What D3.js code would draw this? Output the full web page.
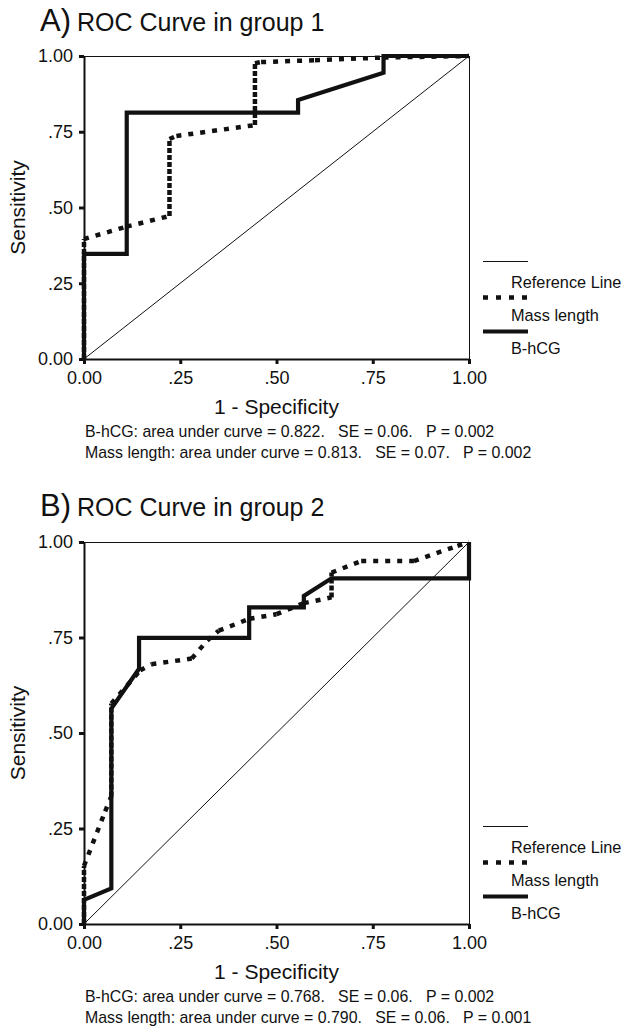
<!DOCTYPE html>
<html>
<head>
<meta charset="utf-8">
<script src="https://cdn.jsdelivr.net/npm/d3@7"></script>
<style>
  body { margin: 0; background: #fff; }
  svg { display: block; }
  text { font-family: "Liberation Sans", Arial, sans-serif; fill: #111; }
</style>
</head>
<body>
<div id="chart"></div>
<script>
// ROC curves, two groups (SPSS style output)

var panelLetters = ["A)", "B)"];
var panelTitles = ["ROC Curve in group 1", "ROC Curve in group 2"];

var tickValues = [0, 0.25, 0.5, 0.75, 1];
var tickLabels = ["0.00", ".25", ".50", ".75", "1.00"];

var legendLabels = ["Reference Line", "Mass length", "B-hCG"];

// [1 - specificity, sensitivity]
var hcgA = [[0, 0], [0, 0.347], [0.111, 0.347], [0.111, 0.813], [0.556, 0.813],
  [0.556, 0.855], [0.778, 0.945], [0.778, 1], [1, 1]];
var massA = [[0, 0], [0, 0.396], [0.111, 0.437], [0.222, 0.472], [0.222, 0.726],
  [0.24, 0.736], [0.444, 0.772], [0.444, 0.976], [0.46, 0.98], [0.6, 0.986],
  [0.778, 0.995], [1, 1]];

var hcgB = [[0, 0], [0, 0.063], [0.071, 0.093], [0.071, 0.564], [0.143, 0.668],
  [0.143, 0.749], [0.429, 0.749], [0.429, 0.829], [0.571, 0.829], [0.571, 0.859],
  [0.643, 0.905], [1, 0.905], [1, 1]];
var massB = [[0, 0], [0, 0.152], [0.055, 0.295], [0.071, 0.334], [0.071, 0.577],
  [0.146, 0.664], [0.175, 0.68], [0.28, 0.695], [0.32, 0.742], [0.35, 0.768],
  [0.43, 0.799], [0.5, 0.811], [0.571, 0.84], [0.643, 0.855], [0.643, 0.92],
  [0.72, 0.95], [0.857, 0.95], [0.97, 0.99], [1, 1]];

var statsA = ["B-hCG: area under curve = 0.822.   SE = 0.06.   P = 0.002",
  "Mass length: area under curve = 0.813.   SE = 0.07.   P = 0.002"];
var statsB = ["B-hCG: area under curve = 0.768.   SE = 0.06.   P = 0.002",
  "Mass length: area under curve = 0.790.   SE = 0.06.   P = 0.001"];

var W = 625, H = 1034;

var svg = d3.select("#chart").append("svg")
  .attr("width", W)
  .attr("height", H);

//panel layout, plot box in pixels
var panels = [
  {letter: panelLetters[0], title: panelTitles[0], hcg: hcgA, mass: massA, stats: statsA,
   top: 56, bottom: 359, titleY: 31},
  {letter: panelLetters[1], title: panelTitles[1], hcg: hcgB, mass: massB, stats: statsB,
   top: 542, bottom: 924, titleY: 516}
];

panels.forEach(function(p) { drawPanel(p); });

function drawPanel(p) {
  var left = 84, right = 469;

  var x = d3.scaleLinear().domain([0, 1]).range([left, right]);
  var y = d3.scaleLinear().domain([0, 1]).range([p.bottom, p.top]);

  var g = svg.append("g");

  //title
  var t = g.append("text")
    .attr("x", 40)
    .attr("y", p.titleY);
  t.append("tspan").attr("font-size", 31).text(p.letter);
  t.append("tspan").attr("font-size", 25).attr("dx", 6).text(p.title);

  //frame (top and right)
  g.append("rect")
    .attr("x", left + 0.5).attr("y", p.top + 0.5)
    .attr("width", right - left).attr("height", p.bottom - p.top)
    .attr("fill", "none")
    .attr("stroke", "#111")
    .attr("stroke-width", 1);

  //reference line
  g.append("line")
    .attr("x1", x(0)).attr("y1", y(0))
    .attr("x2", x(1)).attr("y2", y(1))
    .attr("stroke", "#111")
    .attr("stroke-width", 1);

  var line = d3.line().x(d => x(d[0])).y(d => y(d[1]));

  //mass length: dotted, each segment on its own so vertical runs look denser
  for (var i = 0; i < p.mass.length - 1; i += 1) {
    var a = p.mass[i], b = p.mass[i + 1];
    var vertical = a[0] == b[0];
    g.append("path")
      .attr("d", line([a, b]))
      .attr("fill", "none")
      .attr("stroke", "#111")
      .attr("stroke-width", 4.5)
      .attr("stroke-dasharray", vertical ? "5,2" : "5,7");
  }

  //b-hcg: thick solid
  g.append("path")
    .attr("d", line(p.hcg))
    .attr("fill", "none")
    .attr("stroke", "#111")
    .attr("stroke-width", 4.2)
    .attr("stroke-linejoin", "miter");

  //axes
  var yAxis = d3.axisLeft(y)
    .tickValues(tickValues)
    .tickFormat((d, i) => tickLabels[i])
    .tickSize(5)
    .tickSizeOuter(0)
    .tickPadding(6);
  var xAxis = d3.axisBottom(x)
    .tickValues(tickValues)
    .tickFormat((d, i) => tickLabels[i])
    .tickSize(5)
    .tickSizeOuter(0)
    .tickPadding(7);

  var ya = g.append("g")
    .attr("transform", "translate(" + left + ",0)")
    .call(yAxis);
  var xa = g.append("g")
    .attr("transform", "translate(0," + p.bottom + ")")
    .call(xAxis);

  [ya, xa].forEach(function(ax) {
    ax.select(".domain").attr("stroke", "#111").attr("stroke-width", 2);
    ax.selectAll(".tick line").attr("stroke", "#111").attr("stroke-width", 3);
    ax.selectAll(".tick text")
      .attr("font-size", 18)
      .attr("font-family", "Liberation Sans, Arial, sans-serif")
      .attr("fill", "#111");
  });

  //axis titles
  g.append("text")
    .attr("transform", "translate(25," + ((p.top + p.bottom) / 2) + ") rotate(-90)")
    .attr("text-anchor", "middle")
    .attr("font-size", 21)
    .text("Sensitivity");

  g.append("text")
    .attr("x", (left + right) / 2)
    .attr("y", p.bottom + 55)
    .attr("text-anchor", "middle")
    .attr("font-size", 21)
    .text("1 - Specificity");

  //stats lines
  p.stats.forEach(function(s, i) {
    g.append("text")
      .attr("x", 85)
      .attr("y", p.bottom + 78 + i * 21)
      .attr("font-size", 15.9)
      .attr("xml:space", "preserve")
      .style("white-space", "pre")
      .text(s);
  });

  //legend
  var lx = 483, lx2 = 528, tx = 511;
  var ly = p.bottom - 97.5;
  g.append("line")
    .attr("x1", lx).attr("x2", lx2)
    .attr("y1", ly).attr("y2", ly)
    .attr("stroke", "#111").attr("stroke-width", 1);
  g.append("line")
    .attr("x1", lx).attr("x2", lx2)
    .attr("y1", ly + 36).attr("y2", ly + 36)
    .attr("stroke", "#111").attr("stroke-width", 4.5)
    .attr("stroke-dasharray", "5,8");
  g.append("line")
    .attr("x1", lx).attr("x2", lx2)
    .attr("y1", ly + 70).attr("y2", ly + 70)
    .attr("stroke", "#111").attr("stroke-width", 4);

  legendLabels.forEach(function(l, i) {
    g.append("text")
      .attr("x", tx)
      .attr("y", ly + 26 + i * 33)
      .attr("font-size", 16.3)
      .text(l);
  });
}
</script>
</body>
</html>
